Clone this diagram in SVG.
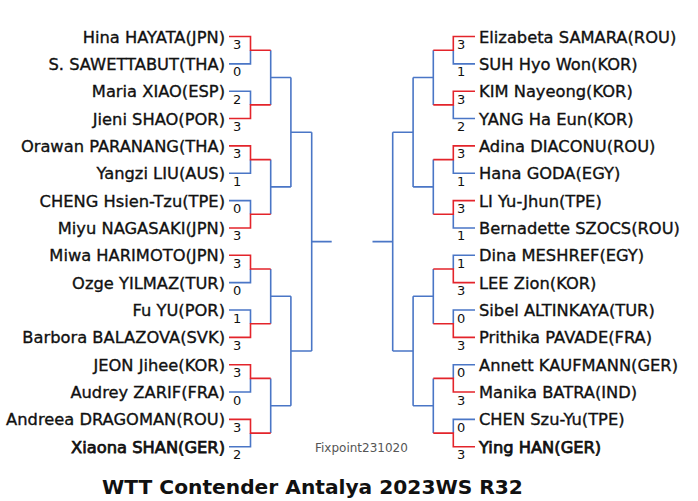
<svg xmlns="http://www.w3.org/2000/svg" width="698" height="501" viewBox="0 0 698 501">
<style>
.bg{fill:#ffffff}
.nm{font-family:"DejaVu Sans","Liberation Sans",sans-serif;font-size:16.3px;fill:#111111;stroke:#111111;stroke-width:0.35}
.nl{text-anchor:end}
.b{stroke-width:0.75}
.sc{font-family:"DejaVu Sans","Liberation Sans",sans-serif;font-size:13px;fill:#111111}
.w{fill:none;stroke:#e3242b;stroke-width:1.6}
.l{fill:none;stroke:#4a76c6;stroke-width:1.6}
.title{font-family:"DejaVu Sans","Liberation Sans",sans-serif;font-size:20.2px;font-weight:bold;fill:#111111;text-anchor:middle}
.fx{font-family:"DejaVu Sans","Liberation Sans",sans-serif;font-size:12px;fill:#555555}
</style>
<rect class="bg" x="0" y="0" width="698" height="501"/>
<g id="connectors">
<path class="l" d="M229 63.85H250.5V50.2 M229 91.2H250.5V104.9 M229 173.25H250.5V159.6 M229 200.6H250.5V214.3 M229 282.65H250.5V269 M229 310H250.5V323.7 M229 392.05H250.5V378.4 M229 446.75H250.5V433.1"/>
<path class="l" d="M270.7 50.2V104.9M270.7 77.5H290.9 M270.7 159.6V214.3M270.7 186.9H290.9 M270.7 269V323.7M270.7 296.3H290.9 M270.7 378.4V433.1M270.7 405.7H290.9 M290.9 77.5V186.9M290.9 132.2H311.7 M290.9 296.3V405.7M290.9 351H311.7 M311.7 132.2V351M311.7 241.6H331.7"/>
<path class="w" d="M229 36.5H250.5V50.2H270.7 M229 118.55H250.5V104.9H270.7 M229 145.9H250.5V159.6H270.7 M229 227.95H250.5V214.3H270.7 M229 255.3H250.5V269H270.7 M229 337.35H250.5V323.7H270.7 M229 364.7H250.5V378.4H270.7 M229 419.4H250.5V433.1H270.7"/>
<path class="l" d="M475 63.85H453.3V50.2 M475 118.55H453.3V104.9 M475 173.25H453.3V159.6 M475 227.95H453.3V214.3 M475 255.3H453.3V269 M475 310H453.3V323.7 M475 364.7H453.3V378.4 M475 419.4H453.3V433.1"/>
<path class="l" d="M433.3 50.2V104.9M433.3 77.5H413.1 M433.3 159.6V214.3M433.3 186.9H413.1 M433.3 269V323.7M433.3 296.3H413.1 M433.3 378.4V433.1M433.3 405.7H413.1 M413.1 77.5V186.9M413.1 132.2H392.7 M413.1 296.3V405.7M413.1 351H392.7 M392.7 132.2V351M392.7 241.6H372.5"/>
<path class="w" d="M475 36.5H453.3V50.2H433.3 M475 91.2H453.3V104.9H433.3 M475 145.9H453.3V159.6H433.3 M475 200.6H453.3V214.3H433.3 M475 282.65H453.3V269H433.3 M475 337.35H453.3V323.7H433.3 M475 392.05H453.3V378.4H433.3 M475 446.75H453.3V433.1H433.3"/>
</g>
<g id="L1"><text class="nm nl" x="225" y="42.5">Hina HAYATA(JPN)</text><text class="sc" x="233" y="49">3</text></g>
<g id="L2"><text class="nm nl" x="225" y="69.85">S. SAWETTABUT(THA)</text><text class="sc" x="233" y="76.35">0</text></g>
<g id="L3"><text class="nm nl" x="225" y="97.2">Maria XIAO(ESP)</text><text class="sc" x="233" y="103.7">2</text></g>
<g id="L4"><text class="nm nl" x="225" y="124.55">Jieni SHAO(POR)</text><text class="sc" x="233" y="131.05">3</text></g>
<g id="L5"><text class="nm nl" x="225" y="151.9">Orawan PARANANG(THA)</text><text class="sc" x="233" y="158.4">3</text></g>
<g id="L6"><text class="nm nl" x="225" y="179.25">Yangzi LIU(AUS)</text><text class="sc" x="233" y="185.75">1</text></g>
<g id="L7"><text class="nm nl" x="225" y="206.6">CHENG Hsien-Tzu(TPE)</text><text class="sc" x="233" y="213.1">0</text></g>
<g id="L8"><text class="nm nl" x="225" y="233.95">Miyu NAGASAKI(JPN)</text><text class="sc" x="233" y="240.45">3</text></g>
<g id="L9"><text class="nm nl" x="225" y="261.3">Miwa HARIMOTO(JPN)</text><text class="sc" x="233" y="267.8">3</text></g>
<g id="L10"><text class="nm nl" x="225" y="288.65">Ozge YILMAZ(TUR)</text><text class="sc" x="233" y="295.15">0</text></g>
<g id="L11"><text class="nm nl" x="225" y="316">Fu YU(POR)</text><text class="sc" x="233" y="322.5">1</text></g>
<g id="L12"><text class="nm nl" x="225" y="343.35">Barbora BALAZOVA(SVK)</text><text class="sc" x="233" y="349.85">3</text></g>
<g id="L13"><text class="nm nl" x="225" y="370.7">JEON Jihee(KOR)</text><text class="sc" x="233" y="377.2">3</text></g>
<g id="L14"><text class="nm nl" x="225" y="398.05">Audrey ZARIF(FRA)</text><text class="sc" x="233" y="404.55">0</text></g>
<g id="L15"><text class="nm nl" x="225" y="425.4">Andreea DRAGOMAN(ROU)</text><text class="sc" x="233" y="431.9">3</text></g>
<g id="L16"><text class="nm nl b" x="225" y="452.75">Xiaona SHAN(GER)</text><text class="sc" x="233" y="459.25">2</text></g>
<g id="R1"><text class="nm" x="479" y="42.5">Elizabeta SAMARA(ROU)</text><text class="sc" x="457" y="49">3</text></g>
<g id="R2"><text class="nm" x="479" y="69.85">SUH Hyo Won(KOR)</text><text class="sc" x="457" y="76.35">1</text></g>
<g id="R3"><text class="nm" x="479" y="97.2">KIM Nayeong(KOR)</text><text class="sc" x="457" y="103.7">3</text></g>
<g id="R4"><text class="nm" x="479" y="124.55">YANG Ha Eun(KOR)</text><text class="sc" x="457" y="131.05">2</text></g>
<g id="R5"><text class="nm" x="479" y="151.9">Adina DIACONU(ROU)</text><text class="sc" x="457" y="158.4">3</text></g>
<g id="R6"><text class="nm" x="479" y="179.25">Hana GODA(EGY)</text><text class="sc" x="457" y="185.75">1</text></g>
<g id="R7"><text class="nm" x="479" y="206.6">LI Yu-Jhun(TPE)</text><text class="sc" x="457" y="213.1">3</text></g>
<g id="R8"><text class="nm" x="479" y="233.95">Bernadette SZOCS(ROU)</text><text class="sc" x="457" y="240.45">1</text></g>
<g id="R9"><text class="nm" x="479" y="261.3">Dina MESHREF(EGY)</text><text class="sc" x="457" y="267.8">1</text></g>
<g id="R10"><text class="nm" x="479" y="288.65">LEE Zion(KOR)</text><text class="sc" x="457" y="295.15">3</text></g>
<g id="R11"><text class="nm" x="479" y="316">Sibel ALTINKAYA(TUR)</text><text class="sc" x="457" y="322.5">0</text></g>
<g id="R12"><text class="nm" x="479" y="343.35">Prithika PAVADE(FRA)</text><text class="sc" x="457" y="349.85">3</text></g>
<g id="R13"><text class="nm" x="479" y="370.7">Annett KAUFMANN(GER)</text><text class="sc" x="457" y="377.2">0</text></g>
<g id="R14"><text class="nm" x="479" y="398.05">Manika BATRA(IND)</text><text class="sc" x="457" y="404.55">3</text></g>
<g id="R15"><text class="nm" x="479" y="425.4">CHEN Szu-Yu(TPE)</text><text class="sc" x="457" y="431.9">0</text></g>
<g id="R16"><text class="nm b" x="479" y="452.75">Ying HAN(GER)</text><text class="sc" x="457" y="459.25">3</text></g>
<g id="footer">
<text class="fx" x="315" y="451.5">Fixpoint231020</text>
<text class="title" x="312.5" y="494">WTT Contender Antalya 2023WS R32</text>
</g>
</svg>
